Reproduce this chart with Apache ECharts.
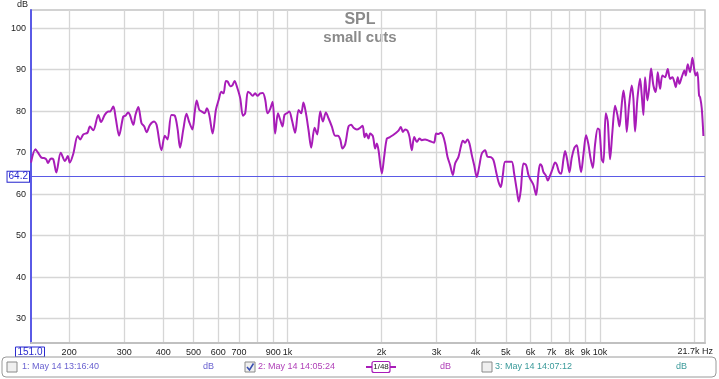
<!DOCTYPE html>
<html><head><meta charset="utf-8">
<script src="https://cdn.jsdelivr.net/npm/echarts@6/dist/echarts.min.js"></script>
<style>html,body{margin:0;padding:0;background:#fff}#c{width:719px;height:379px}</style>
</head><body><div id="c"></div>
<script>
// ---- data (frequency in Hz, SPL in dB) ----
const freqs = [151,156,159,163,166,169,171,175,178,182,188,194,198,201,206,213,217,222,229,233,239,248,253,260,267,270,277,282,289,298,303,309,313,321,326,333,341,348,354,363,374,381,395,405,413,425,436,445,453,464,475,484,496,505,512,
522,532,543,552,562,576,590,602,614,624,635,644,656,667,677,689,706,720,732,747,760,773,788,802,818,834,849,863,880,896,913,932,948,964,978,995,1013,1033,1058,1085,1106,1125,1148,1168,1191,1221,1245,1273,1298,1327,1353,1387,1421,1450,1475,1500,1530,1568,1599,1627,1667,1709,
1740,1765,1786,1817,1839,1876,1908,1932,1956,2005,2039,2080,2121,2174,2228,2266,2306,2340,2380,2422,2458,2500,2544,2594,2646,2692,2758,2827,2897,2947,2991,3043,3096,3142,3196,3252,3316,3382,3440,3526,3588,3641,3704,3768,3824,3891,3958,4037,4116,4188,4292,4367,4476,4564,4654,4735,4818,4890,4974,5098,5224,5314,5420,5501,5583,5693,5806,5907,6010,6129,6250,
6359,6437,6516,6597,6712,6811,6929,7049,7189,7278,7403,7513,7644,7738,7853,7989,8128,8289,8433,8537,8706,8858,9033,9190,9327,9489,9652,9845,9966,10139,10264,10442,10598,10780,10968,11185,11379,11549,11691,11895,12041,12190,12400,12647,12803,12960,13186,13447,13614,13782,13951,14194,14368,14582,14836,15094,15318,15582,15854,16168,16490,16773,17066,17320,17492,17752,17970,18281,18644,18829,19109,19438,19777,20071,20271,20520,20772,20926,21186,21447];
const spl = [67.6,70.8,70.0,68.8,68.7,68.4,67.5,68.6,68.4,65.2,70.0,68.0,69.2,67.6,69.6,74.0,73.2,74.4,74.8,76.3,75.4,79.1,77.4,79.1,79.9,79.9,81.1,78.3,74.1,78.7,78.9,79.7,79.1,76.7,79.1,81.0,77.1,76.3,74.9,76.7,77.5,76.7,70.6,74.1,73.2,79.1,78.9,75.6,71.2,75.6,79.4,77.5,75.6,79.9,82.6,
80.3,79.9,79.5,80.7,79.1,74.6,80.3,82.7,84.7,84.3,87.3,87.1,86.0,86.3,87.3,85.9,83.1,78.9,79.5,84.7,84.3,83.7,84.3,83.7,84.3,84.4,82.7,79.5,80.5,82.3,74.6,79.5,77.9,76.3,79.1,79.5,79.9,77.9,74.8,80.3,79.5,82.1,79.1,75.4,71.2,76.0,74.4,79.9,77.5,79.7,78.3,76.3,74.1,74.1,73.2,71.0,72.0,76.3,76.7,76.0,75.6,76.0,
76.5,73.7,74.6,73.4,74.6,74.0,71.0,72.2,70.6,65.0,69.0,73.4,73.7,74.2,74.8,75.3,76.2,75.0,75.6,75.3,73.8,70.6,73.8,72.6,73.4,73.0,73.2,72.9,72.6,72.4,74.6,74.5,74.8,74.2,72.2,69.0,67.0,64.6,67.4,69.0,71.4,72.9,72.4,73.2,72.2,69.4,67.0,64.1,67.0,69.8,70.6,69.0,68.9,68.2,65.4,63.0,61.7,64.6,67.8,67.8,67.8,65.0,61.0,58.2,61.0,67.4,67.0,64.6,63.4,62.2,59.8,
65.0,67.2,66.8,65.3,64.5,63.3,64.5,66.0,67.6,67.1,65.3,64.9,68.4,70.4,68.4,65.3,68.8,71.2,71.8,69.6,65.3,69.6,74.2,72.0,68.8,66.3,72.0,75.8,75.5,68.4,67.6,79.5,77.5,68.4,75.1,81.3,79.1,76.3,79.9,85.0,81.9,75.0,81.5,86.2,83.0,75.1,83.0,87.8,83.8,79.1,88.2,82.6,85.4,90.3,86.2,84.6,89.4,85.4,88.6,88.2,90.2,87.8,88.2,87.0,85.8,88.2,86.6,88.2,89.8,88.6,91.3,89.4,92.9,89.8,88.6,89.4,83.8,83.4,80.7,74.0];

const xGridValues = [200,300,400,500,600,700,800,900,1000,2000,3000,4000,5000,6000,7000,8000,9000,10000,20000];
const xLabelValues = [200,300,400,500,600,700,900,1000,2000,3000,4000,5000,6000,7000,8000,9000,10000];
const yTickValues = [30,40,50,60,70,80,90,100];
const xRange = [151, 21700];
const yRange = [24.1, 104.4];
const cursorLevel = 64.2;
const cursorFreqLabel = '151.0';
const xEndLabel = '21.7k Hz';
const titleText = 'SPL';
const subtitleText = 'small cuts';
const legendItems = ['1: May 14 13:16:40', '2: May 14 14:05:24', '3: May 14 14:07:12'];
const smoothingLabel = '1/48';

const FONT = '"Liberation Sans", Arial, sans-serif';
const lineColor = '#a81cb8';
const cursorColor = '#5a5ae6';

const chart = echarts.init(document.getElementById('c'), null, {renderer: 'canvas'});

function checkbox(x, y, checked) {
  const els = [{
    type: 'rect', shape: {x: x, y: y, width: 10, height: 10},
    style: {fill: '#f0f0f0', stroke: '#8a8a8a', lineWidth: 1}
  }];
  if (checked) {
    els.push({type: 'polyline', shape: {points: [[x + 2, y + 5], [x + 4.5, y + 8], [x + 8.5, y + 1.5]]},
      style: {stroke: '#3a4fb0', lineWidth: 1.6, fill: null}});
  }
  return els;
}

const graphics = [
  {type: 'text', left: 17, top: 0, style: {text: 'dB', font: '9px ' + FONT, fill: '#222'}},
  {type: 'text', x: 360, y: 12, style: {text: titleText, font: 'bold 16px ' + FONT, fill: '#8a8a8a', align: 'center'}},
  {type: 'text', x: 360, y: 30, style: {text: subtitleText, font: 'bold 15px ' + FONT, fill: '#8a8a8a', align: 'center'}},
  {type: 'text', x: 30, y: 347, style: {text: cursorFreqLabel, font: '10px ' + FONT, fill: '#2a2ad0', align: 'center',
      borderColor: '#2a2ad0', borderWidth: 1, padding: [0, 2, 0, 2]}},
  {type: 'text', x: 713, y: 347, style: {text: xEndLabel, font: '9px ' + FONT, fill: '#222', align: 'right'}},
  {type: 'rect', shape: {x: 2, y: 357, width: 714, height: 20, r: 4}, style: {fill: '#fff', stroke: '#9a9a9a', lineWidth: 1}},
  ...checkbox(7, 362, false),
  {type: 'text', x: 22, y: 362, style: {text: legendItems[0], font: '9px ' + FONT, fill: '#6a62d0'}},
  {type: 'text', x: 203, y: 362, style: {text: 'dB', font: '9px ' + FONT, fill: '#6a62d0'}},
  ...checkbox(245, 362, true),
  {type: 'text', x: 258, y: 362, style: {text: legendItems[1], font: '9px ' + FONT, fill: '#b040b8'}},
  {type: 'line', shape: {x1: 366, y1: 367, x2: 396, y2: 367}, style: {stroke: lineColor, lineWidth: 2}},
  {type: 'rect', shape: {x: 372, y: 361.5, width: 18, height: 11, r: 2}, style: {fill: '#fff', stroke: lineColor, lineWidth: 1.2}},
  {type: 'text', x: 381, y: 363, style: {text: smoothingLabel, font: '8px ' + FONT, fill: '#222', align: 'center'}},
  {type: 'text', x: 440, y: 362, style: {text: 'dB', font: '9px ' + FONT, fill: '#b040b8'}},
  ...checkbox(482, 362, false),
  {type: 'text', x: 495, y: 362, style: {text: legendItems[2], font: '9px ' + FONT, fill: '#3a9a9a'}},
  {type: 'text', x: 676, y: 362, style: {text: 'dB', font: '9px ' + FONT, fill: '#3a9a9a'}}
];

const option = {
  animation: false,
  backgroundColor: '#fff',
  grid: {left: 31, right: 14, top: 10, bottom: 36, show: true, borderColor: '#c4c4c4', borderWidth: 1.5, backgroundColor: '#fff'},
  xAxis: {
    type: 'log', logBase: 10, min: xRange[0], max: xRange[1],
    axisLine: {show: true, onZero: false, lineStyle: {color: '#c0c0c0', width: 2}},
    axisTick: {show: false, customValues: xGridValues},
    axisLabel: {customValues: xLabelValues, fontSize: 9, color: '#222', fontFamily: FONT, margin: 5,
      formatter: v => v >= 1000 ? (v / 1000) + 'k' : String(v)},
    splitLine: {show: true, lineStyle: {color: '#d6d6d6', width: 1.3}},
    minorSplitLine: {show: false}
  },
  yAxis: {
    type: 'value', min: yRange[0], max: yRange[1],
    axisLine: {show: true, lineStyle: {color: cursorColor, width: 2}},
    axisTick: {show: false, customValues: yTickValues},
    axisLabel: {customValues: yTickValues, fontSize: 9, color: '#222', fontFamily: FONT, margin: 5},
    splitLine: {show: true, lineStyle: {color: '#d6d6d6', width: 1.3}}
  },
  graphic: graphics,
  series: [{
    type: 'line',
    data: freqs.map((f, i) => [f, spl[i]]),
    showSymbol: false,
    smooth: 0.3,
    lineStyle: {color: lineColor, width: 2},
    itemStyle: {color: lineColor},
    z: 5,
    markLine: {
      silent: true, symbol: 'none', animation: false,
      lineStyle: {color: cursorColor, width: 1.2, type: 'solid'},
      label: {show: true, position: 'start', distance: 2, formatter: String(cursorLevel), color: '#2a2ad0',
        fontSize: 10, fontFamily: FONT, borderColor: '#2a2ad0', borderWidth: 1, padding: [0, 1, 0, 1], backgroundColor: '#fff'},
      data: [{yAxis: cursorLevel}]
    }
  }]
};
chart.setOption(option);
</script>
</body></html>
